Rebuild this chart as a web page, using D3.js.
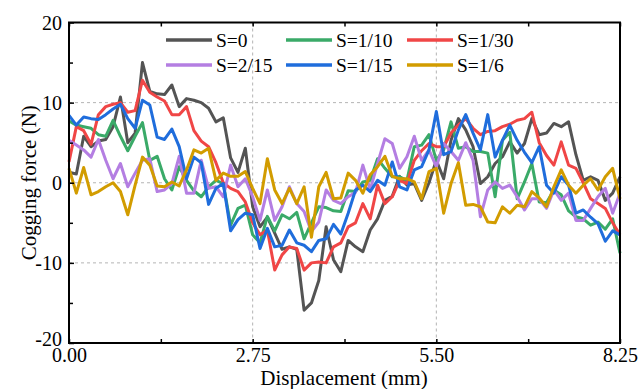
<!DOCTYPE html>
<html>
<head>
<meta charset="utf-8">
<script src="https://cdn.jsdelivr.net/npm/d3@7"></script>
</head>
<body style="margin:0;background:#fff">
<svg id="chart" width="638" height="389" style="display:block"></svg>
<script>
// Sampling grid along the displacement axis (mm)
const displacementStep = 0.11;
const sampleCount = 76;

// Axis ticks
const xTicks = [0, 2.75, 5.5, 8.25];
const xTickLabels = ["0.00", "2.75", "5.50", "8.25"];
const xMinorTicks = [1.375, 4.125, 6.875];
const yTicks = [-20, -10, 0, 10, 20];
const yTickLabels = ["-20", "-10", "0", "10", "20"];
const yMinorTicks = [-15, -5, 5, 15];

// Series labels and colours (legend order: row by row)
const seriesNames = ["S=0", "S=1/10", "S=1/30", "S=2/15", "S=1/15", "S=1/6"];
const seriesColors = ["#545454", "#3aaa68", "#f04646", "#b47ee2", "#1f6ddc", "#d29c00"];

// Cogging force (N) for each skew ratio
const forceS0 = [1.3, 1.1, 5.8, 4.5, 5.2, 5.4, 7, 10.7, 5, 6.2, 15, 11.4, 11.1, 11, 12.2, 9.5, 10.5, 10.3, 10, 9.3,
  7.6, 8.1, 3.1, 1.3, 4.3, -3, -5.5, -4.3, -6.3, -8.3, -8, -8.3, -15.9, -15, -12.2, -5.5, -9.6, -11.1, -7.2, -8,
  -8.6, -5.9, -4.5, -2.2, -1.7, 0.8, -0.3, -0.1, -2.2, 0, 2.8, 0.5, 5.3, 8, 6.6, 4.5, -0.1, 0.75, 2.4, 3.25,
  5.1, 3.7, 4.9, 8, 6, 6.2, 7.4, 7, 7.6, 3.5, 0.3, 0.75, 0.3, -2.2, -1.3, 0.75];
const forceS1_10 = [7.7, 7.2, 7, 6.8, 6, 5.8, 7.8, 5.8, 4, 5.8, 7.5, 2.8, 3.3, 0.5, -0.9, 2, 0.3, -1, -1.75, -0.5,
  0.3, -0.1, -5.3, -3.2, -2.8, -6.5, -7.5, -4.2, -6, -4, -4.5, -3.7, -7, -5, -3, -3.1, -3.5, -3.6, -1, -1.1,
  0.1, 0.3, 3, 1.8, 0.75, 0.75, 0.3, 4.5, 4.7, 6, 2.8, 4.1, 7.6, 4.3, 4.5, 3.9, 3.9, 3.7, -1.75, 5.3,
  6.3, -2, 0.1, 2.4, -2.4, -2.5, -0.9, -1.5, -3.5, -4.25, -4.5, -5.3, -4.9, -5.8, -4.5, -8.8];
const forceS1_30 = [2.6, 7, 6.5, 4.8, 8.5, 9.5, 9.8, 10, 8.8, 9, 12.8, 11.3, 10.7, 10.2, 8.5, 8.5, 9.5, 6.5, 5.2, 4.5,
  2.5, 0, -0.7, -1.1, -2.4, -5, -6.5, -5.9, -10.9, -9, -8, -8.2, -10.9, -10, -9.9, -10, -8, -7.5, -5.5, -5,
  -2.6, -4.5, -0.3, -2.6, -1.75, 0.3, -0.1, 2.8, 4, 4.9, 4.5, 4.5, 6.2, 7.2, 8, 6.8, 6, 6.4, 6.5, 7,
  7.3, 7.8, 8, 8.8, 5, 3.4, 2.2, 5.1, 2.2, 1.8, 0, -2, -2.6, -3.2, -5, -6.5];
const forceS2_15 = [5.3, 4.7, 4.1, 3.2, 5.4, 2.8, 0.5, 2.4, -0.5, 1.2, 2.8, 3, -1.1, -0.9, -0.1, 3.3, -1.3, -1.3, 2.8, -0.7,
  -0.5, -1.75, 2.2, -0.5, 0.5, -1.75, -4.7, -0.9, -4.7, -3, -0.5, -2.6, -3.6, -6.1, -4.9, -0.9, -2.2, -2.6, -1.75, -1.2,
  2.2, -0.9, 2.4, 5.5, 4.9, 1.8, 3.25, 5.8, 2.8, 4.1, 2, 4.9, 3.9, 2.8, 5, 2.8, -4.25, -0.9, 0.1, -0.7,
  -0.3, -1.75, -3.4, -2, -2, -3.2, -0.9, -2.2, -1.3, -4.7, -4.7, -3.2, -1.75, -0.7, -3.8, -1.3];
const forceS1_15 = [8.4, 7.2, 8.2, 8, 7.9, 8.5, 9.2, 9.8, 8, 6.8, 10.3, 9.7, 5.7, 5.4, 6.7, 4.5, 0.5, 3.2, 2.5, -2.7,
  -0.7, -0.1, -6, -4.6, -3.8, -4, -8.2, -5.7, -8, -7.8, -5.9, -7.5, -7.8, -8.6, -7.2, -7, -5.2, -6.4, -3.8, -0.9,
  -0.3, -1.1, 0.3, -0.3, 2.6, -0.5, -0.9, 1.6, 2, 4.1, 8.9, 3.5, 3.9, 6.6, 8.5, 6.2, 4.1, 8.5, 3.2, 5.3,
  7.2, 5.3, 3.8, 2.5, 4.5, -0.3, -1.3, 0.75, -0.3, -3.8, -3.4, -4.3, -5.1, -7.3, -6, -6.5];
const forceS1_6 = [1.8, -1.3, 1.9, -1.5, -1.1, -0.5, 0, -1.1, -4, -0.3, 3.2, 2.2, -0.4, -0.5, 0.1, -0.4, 1.6, 4.1, 3.7, 4.3,
  0.3, 1.2, 0.8, 0.8, 1.4, -0.7, -2.6, 3, -0.9, -2.6, -0.7, -2.6, -0.5, -6.8, -0.5, 1.3, -2, -1.9, 1.2, 0.3,
  -1.3, 1, 2, 3.3, 0.8, 0.5, 0.5, 0.1, -2, 1.4, 1.8, -3.8, -0.1, 2.5, -2.8, -2.7, -3, -4.9, -5, -3,
  -3.8, -2.8, -3, -1.1, -1.9, -3, -0.5, 1.6, -0.3, -1.3, -0.3, 0.5, -0.9, 0.75, 1.8, -2];

const seriesValues = [forceS0, forceS1_10, forceS1_30, forceS2_15, forceS1_15, forceS1_6];
const displacement = d3.range(sampleCount).map(i => +(i * displacementStep).toFixed(2));

const FONT = "'Liberation Serif', 'Times New Roman', serif";
const svg = d3.select("#chart").style("font-family", FONT);
const plotLeft = 69, plotRight = 620, plotTop = 22.5, plotBottom = 343;

const x = d3.scaleLinear().domain([0, 8.25]).range([plotLeft, plotRight]);
const y = d3.scaleLinear().domain([-20, 20]).range([plotBottom, plotTop]);

// Dashed grid lines at the inner major ticks
const grid = svg.append("g").attr("stroke", "#b4b4b4").attr("stroke-width", 1).attr("stroke-dasharray", "3,3");
grid.selectAll("line.h").data([-10, 0, 10]).enter().append("line")
  .attr("x1", plotLeft).attr("x2", plotRight).attr("y1", d => y(d)).attr("y2", d => y(d));
grid.selectAll("line.v").data([2.75, 5.5]).enter().append("line")
  .attr("y1", plotTop).attr("y2", plotBottom).attr("x1", d => x(d)).attr("x2", d => x(d));

// Curves
const line = d3.line().x((d, i) => x(displacement[i])).y(d => y(d)).curve(d3.curveLinear);
const curves = svg.append("g").attr("fill", "none").attr("stroke-width", 3).attr("stroke-linejoin", "round");
seriesValues.forEach((vals, k) => {
  curves.append("path").datum(vals).attr("d", line).attr("stroke", seriesColors[k]);
});

// Frame
svg.append("rect").attr("x", plotLeft).attr("y", plotTop).attr("width", plotRight - plotLeft).attr("height", plotBottom - plotTop)
  .attr("fill", "none").attr("stroke", "#000").attr("stroke-width", 2);

// Axes with inward ticks
const yAxis = d3.axisLeft(y).tickValues(yTicks).tickSize(-5).tickPadding(7).tickFormat((d, i) => yTickLabels[i]);
const gy = svg.append("g").attr("transform", `translate(${plotLeft},0)`).call(yAxis);
gy.attr("font-family", null);
gy.select(".domain").remove();
gy.selectAll("text").style("font-size", "20px").style("font-family", FONT).attr("fill", "#000");
gy.selectAll(".tick").filter(d => d === -20).select("text").attr("dy", "0.1em");
gy.selectAll(".tick").filter(d => d === 20).select("text").attr("dy", "0.36em");
gy.selectAll("line").attr("stroke-width", 1.5);
const gyMinor = svg.append("g").attr("transform", `translate(${plotLeft},0)`)
  .call(d3.axisLeft(y).tickValues(yMinorTicks).tickSize(-4).tickFormat(""));
gyMinor.select(".domain").remove();
gyMinor.selectAll("line").attr("stroke-width", 1.5);

const xAxis = d3.axisBottom(x).tickValues(xTicks).tickSize(-4).tickPadding(5).tickFormat((d, i) => xTickLabels[i]);
const gx = svg.append("g").attr("transform", `translate(0,${plotBottom})`).call(xAxis);
gx.attr("font-family", null);
gx.select(".domain").remove();
gx.selectAll("text").style("font-size", "20px").style("font-family", FONT).attr("fill", "#000");
gx.selectAll("line").attr("stroke-width", 1.5);
const gxMinor = svg.append("g").attr("transform", `translate(0,${plotBottom})`)
  .call(d3.axisBottom(x).tickValues(xMinorTicks).tickSize(-4).tickFormat(""));
gxMinor.select(".domain").remove();
gxMinor.selectAll("line").attr("stroke-width", 1.5);

// Ticks along the top edge
const gt = svg.append("g").attr("transform", `translate(0,${plotTop})`)
  .call(d3.axisTop(x).tickValues(xTicks.concat(xMinorTicks)).tickSize(-4).tickFormat(""));
gt.select(".domain").remove();
gt.selectAll("line").attr("stroke-width", 1.5);

// Axis titles
svg.append("text").attr("x", 344).attr("y", 385).attr("text-anchor", "middle")
  .style("font-family", FONT).style("font-size", "21px").text("Displacement (mm)");
svg.append("text").attr("transform", `translate(36,${(plotTop + plotBottom) / 2}) rotate(-90)`).attr("text-anchor", "middle")
  .style("font-family", FONT).style("font-size", "21px").text("Cogging force (N)");

// Legend: three columns, two rows
const legendCols = [166, 286, 407];
const legendRows = [40, 65];
const legend = svg.append("g");
seriesNames.forEach((name, k) => {
  const cx = legendCols[k % 3], cy = legendRows[Math.floor(k / 3)];
  legend.append("line").attr("x1", cx).attr("x2", cx + 46).attr("y1", cy).attr("y2", cy)
    .attr("stroke", seriesColors[k]).attr("stroke-width", 3.5);
  legend.append("text").attr("x", cx + 50).attr("y", cy).attr("dy", "0.34em")
    .style("font-family", FONT).style("font-size", "19.5px").text(name);
});
</script>
</body>
</html>
